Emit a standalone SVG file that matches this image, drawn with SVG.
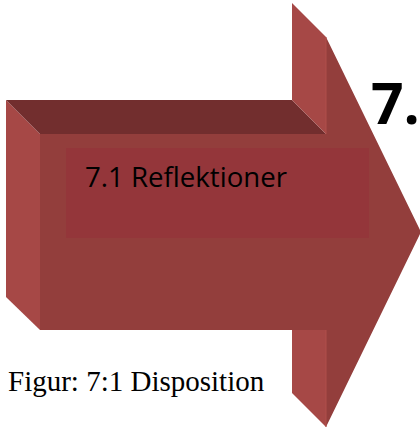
<svg xmlns="http://www.w3.org/2000/svg" width="420" height="430" viewBox="0 0 420 430">
  <style>
    .light { fill: #A64846; }
    .dark { fill: #722E2E; }
    .front { fill: #933E3C; }
    .inner { fill: #94363A; }
    .label { font-family: "Open Sans", "Liberation Sans", sans-serif; fill: #000000; }
    .caption { font-family: "Liberation Serif", "Times New Roman", serif; font-size: 29px; fill: #000000; }
  </style>
  <rect width="420" height="430" fill="#FFFFFF"/>
  <g id="arrow">
    <polygon class="light" points="6,100 40,134 40,330 6,297"/>
    <polygon class="dark" points="6,100 292,100 326,134 40,134"/>
    <polygon class="light" points="292,3 326,37 326,134 292,100"/>
    <polygon class="light" points="292,330 326,330 326,427 292,393"/>
    <polygon class="front" points="40,134 326,134 326,37 421,232 326,427 326,330 40,330"/>
    <line x1="326" y1="37" x2="326" y2="134" stroke="#B04E4A" stroke-width="1"/>
    <line x1="326" y1="330" x2="326" y2="427" stroke="#B04E4A" stroke-width="1"/>
  </g>
  <g id="box">
    <rect class="inner" x="66" y="148" width="303" height="90"/>
    <text class="label" x="85" y="187" font-size="28" textLength="202" lengthAdjust="spacingAndGlyphs">7.1 Reflektioner</text>
  </g>
  <g id="heading">
    <text class="label" x="371" y="124" font-size="57" font-weight="bold">7.</text>
  </g>
  <g id="caption">
    <text class="caption" x="8" y="391">Figur: 7:1 Disposition</text>
  </g>
</svg>
